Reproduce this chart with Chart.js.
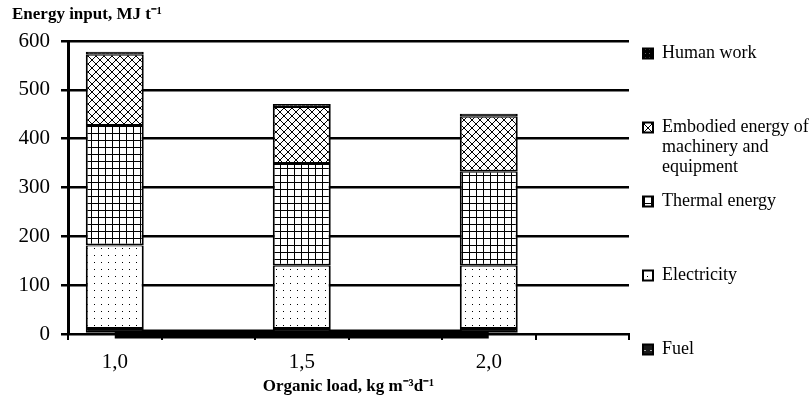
<!DOCTYPE html>
<html><head><meta charset="utf-8">
<script src="https://cdn.jsdelivr.net/npm/chart.js@4.4.1/dist/chart.umd.min.js"></script>
<style>html,body{margin:0;padding:0;background:#fff;}#wrap{width:811px;height:408px;}</style>
</head><body><div id="wrap"><canvas id="c" width="811" height="408"></canvas></div>
<script>
// ---- data ----
const categories = ['1,0', '1,5', '2,0'];
const fuel        = [10, 10, 10];
const electricity = [171, 130, 130];
const thermal     = [245, 208, 192];
const embodied    = [146, 117, 113];
const humanWork   = [6, 6, 6];
const yTickValues = [0, 100, 200, 300, 400, 500, 600];
const seriesNames = ['Fuel', 'Electricity', 'Thermal energy', 'Embodied energy of machinery and equipment', 'Human work'];
const legendLines = [['Fuel', '', ''], ['Electricity', '', ''], ['Thermal energy', '', ''], ['Embodied energy of', 'machinery and', 'equipment'], ['Human work', '', '']];
const yTitle = 'Energy input, MJ t\u207B\u00B9';
const xTitle = 'Organic load, kg m\u207B\u00B3d\u207B\u00B9';

// ---- build chart table (blank spacer category after each load) ----
const labels = categories.flatMap(c => [c, '']);
const spread = arr => arr.flatMap(v => [v, null]);
const baseline = categories.flatMap((c, i) => i < categories.length - 1 ? [0, 0] : [0, null]);

const F = "'Liberation Serif', 'Times New Roman', serif";

function pat(w, h, draw) {
  const c = document.createElement('canvas'); c.width = w; c.height = h;
  const g = c.getContext('2d'); draw(g, w, h);
  return g.createPattern(c, 'repeat');
}
const fills = [
  pat(6, 6, g => { g.fillStyle = '#1a1a1a'; g.fillRect(0, 0, 6, 6); g.fillStyle = '#aaa'; g.fillRect(2, 2, 2, 1); }),
  pat(7, 7, g => { g.fillStyle = '#fff'; g.fillRect(0, 0, 7, 7); g.fillStyle = '#000'; g.fillRect(3, 3, 1, 1); }),
  pat(7, 7, g => { g.fillStyle = '#fff'; g.fillRect(0, 0, 7, 7); g.fillStyle = '#000'; g.fillRect(0, 0, 7, 1); g.fillRect(0, 0, 1, 7); }),
  pat(8, 8, g => { g.fillStyle = '#fff'; g.fillRect(0, 0, 8, 8); g.fillStyle = '#000';
    for (let i = 0; i < 8; i++) { g.fillRect(i, i, 1, 1); g.fillRect(7 - i, i, 1, 1); }
    g.fillRect(3, 3, 2, 2); g.fillRect(0, 0, 1, 1); }),
  pat(4, 4, g => { g.fillStyle = '#000'; g.fillRect(0, 0, 4, 4); g.fillStyle = '#666'; g.fillRect(1, 1, 1, 1); })
];
const seriesValues = [fuel, electricity, thermal, embodied, humanWork];

const barSets = seriesValues.map((vals, i) => ({
  type: 'bar',
  label: seriesNames[i],
  data: spread(vals),
  backgroundColor: fills[i],
  borderColor: '#000',
  borderWidth: { top: 1, bottom: 2, left: 2, right: 2 },
  borderSkipped: false,
  barPercentage: 0.62,
  categoryPercentage: 1.0,
  order: 0
}));

const baseSet = {
  type: 'line', label: '', data: baseline, clip: false,
  borderColor: '#000', borderWidth: 9, pointRadius: 0, fill: false, order: 1
};

Chart.defaults.font.family = F;
Chart.defaults.color = '#000';

new Chart(document.getElementById('c'), {
  data: { labels: labels, datasets: [...barSets, baseSet] },
  options: {
    responsive: false, animation: false, devicePixelRatio: 1,
    layout: { padding: { left: 12, top: 0, right: 0, bottom: 0 } },
    plugins: {
      tooltip: { enabled: false },
      title: {
        display: true, text: yTitle, align: 'start', color: '#000',
        font: { family: F, size: 17, weight: 'bold', lineHeight: 1.2 },
        padding: { top: 4, bottom: 16.6 }
      },
      legend: {
        position: 'right', align: 'start', reverse: true, maxWidth: 182,
        title: { display: true, text: ' ', font: { size: 12, lineHeight: 1.2 }, padding: 8 },
        labels: {
          boxWidth: 10, boxHeight: 10, padding: 14, color: '#000',
          font: { family: F, size: 18, lineHeight: 1.111 },
          generateLabels: chart => {
            const items = Chart.defaults.plugins.legend.labels.generateLabels(chart);
            return items.map(it => Object.assign(it, {
              text: legendLines[it.datasetIndex] || '', lineWidth: 2, strokeStyle: '#000', fontColor: '#000'
            }));
          },
          filter: it => it.datasetIndex < seriesValues.length
        }
      }
    },
    scales: {
      x: {
        stacked: true,
        ticks: { autoSkip: false, maxRotation: 0, color: '#000', font: { family: F, size: 21 }, padding: 10 },
        grid: { offset: true, drawOnChartArea: false, color: '#000', lineWidth: 2, tickLength: 6,
                tickColor: ctx => ctx.index === labels.length ? 'rgba(0,0,0,0)' : '#000' },
        border: { display: true, color: '#000', width: 2 },
        title: { display: true, text: xTitle, color: '#000',
                 font: { family: F, size: 17, weight: 'bold', lineHeight: 1.2 }, padding: { top: 0, bottom: 11 } },
        afterFit: s => { s.height = 74; }
      },
      y: {
        stacked: true, min: yTickValues[0], max: yTickValues[yTickValues.length - 1],
        afterBuildTicks: s => { s.ticks = yTickValues.map(v => ({ value: v })); },
        ticks: { color: '#000', font: { family: F, size: 21 }, padding: 11 },
        grid: { color: '#000', lineWidth: 2.5, tickLength: 7 },
        border: { color: '#000', width: 3 },
        afterFit: s => { s.width = 56; }
      }
    }
  }
});
</script>
</body></html>
